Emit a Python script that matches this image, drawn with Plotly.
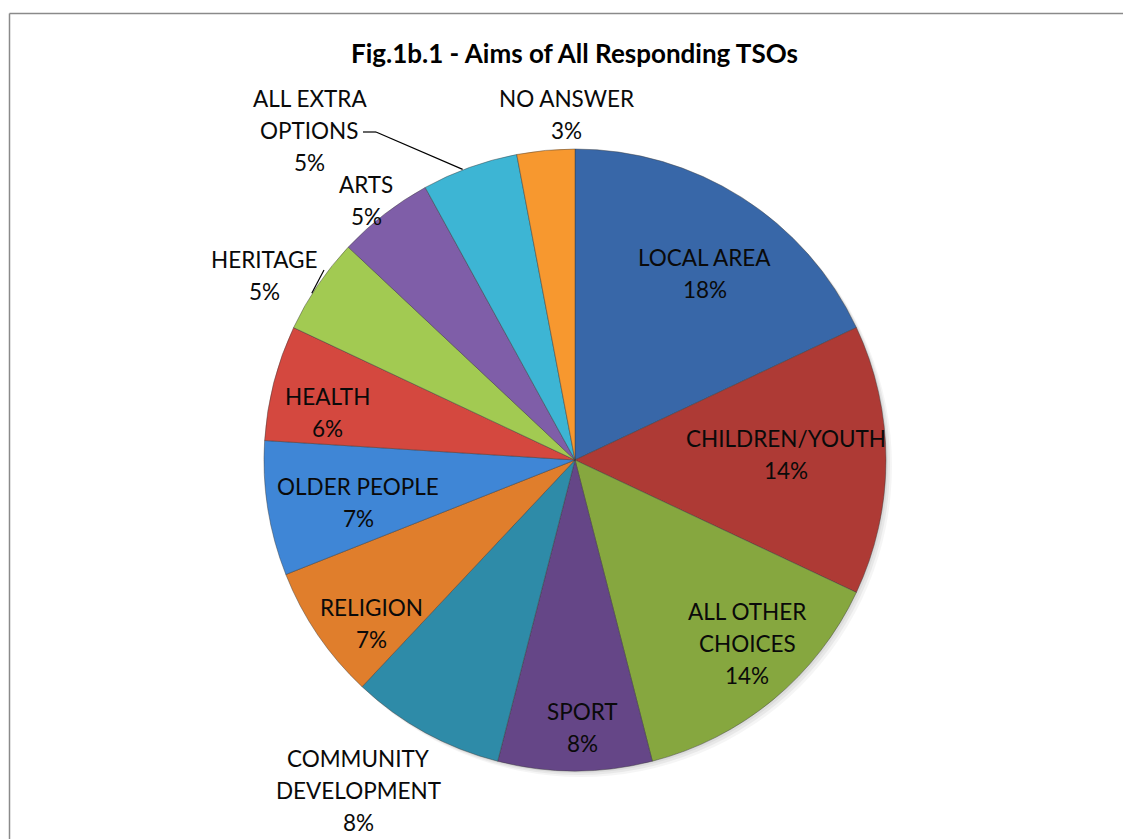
import math
import plotly.graph_objects as go

# Aims of responding TSOs, share of responses (%)
categories = [
    "LOCAL AREA", "CHILDREN/YOUTH", "ALL OTHER CHOICES", "SPORT",
    "COMMUNITY DEVELOPMENT", "RELIGION", "OLDER PEOPLE", "HEALTH",
    "HERITAGE", "ARTS", "ALL EXTRA OPTIONS", "NO ANSWER",
]
shares = [18, 14, 14, 8, 8, 7, 7, 6, 5, 5, 5, 3]

# How each label is broken over lines
label_lines = [
    ["LOCAL AREA"], ["CHILDREN/YOUTH"], ["ALL OTHER", "CHOICES"], ["SPORT"],
    ["COMMUNITY", "DEVELOPMENT"], ["RELIGION"], ["OLDER PEOPLE"], ["HEALTH"],
    ["HERITAGE"], ["ARTS"], ["ALL EXTRA", "OPTIONS"], ["NO ANSWER"],
]

colors = [
    "#3867A8", "#AE3A35", "#86A73F", "#654687", "#2E8BA8", "#E07E2C",
    "#3F86D6", "#D4483F", "#A2CA52", "#7F5EA8", "#3DB5D4", "#F7982F",
]

# Label placement: radial distance (fraction of radius) and angular nudge (deg)
label_radius = [0.73, 0.68, 0.81, 0.86, 1.27, 0.84, 0.71, 0.81, 1.16, 1.07, 1.36, 1.11]
label_nudge = [2.5, -1.5, -3.5, -1.5, 4.5, -4.5, -2.0, -3.5, -3.5, -1.0, -19.0, 4.0]

W, H = 1123, 839
CX, CY, R = 575, 460, 311      # pie centre and radius, px
LINE_H = 32                    # label line spacing, px
FONT = "Lato"


def px_to_paper(x, y):
    return x / W, 1 - y / H


fig = go.Figure()

fig.add_trace(go.Pie(
    labels=categories,
    values=shares,
    sort=False,
    direction="clockwise",
    rotation=0,
    textinfo="none",
    hoverinfo="label+percent",
    marker=dict(colors=colors, line=dict(color="rgba(60,60,60,0.45)", width=1)),
    domain=dict(
        x=[(CX - R) / W, (CX + R) / W],
        y=[1 - (CY + R) / H, 1 - (CY - R) / H],
    ),
    showlegend=False,
))

annotations = []
shapes = []

# soft drop shadow under the pie
for k, a in enumerate([0.05, 0.05, 0.04]):
    off = 2 + k * 2
    x0, y0 = px_to_paper(CX - R + off, CY - R + off)
    x1, y1 = px_to_paper(CX + R + off, CY + R + off)
    shapes.append(dict(type="circle", xref="paper", yref="paper",
                       x0=x0, x1=x1, y0=y1, y1=y0, layer="below",
                       line=dict(width=0), fillcolor=f"rgba(0,0,0,{a})"))

total = sum(shares)
cum = 0
mid_angles = []
for i, v in enumerate(shares):
    mid = (cum + v / 2) / total * 360
    cum += v
    mid_angles.append(mid)
    ang = math.radians(mid + label_nudge[i])
    lx = CX + label_radius[i] * R * math.sin(ang)
    ly = CY - label_radius[i] * R * math.cos(ang)
    lines = label_lines[i] + [f"{round(v / total * 100)}%"]
    n = len(lines)
    for j, t in enumerate(lines):
        yy = ly + (j - (n - 1) / 2) * LINE_H
        px, py = px_to_paper(lx, yy)
        annotations.append(dict(
            x=px, y=py, xref="paper", yref="paper", text=t, showarrow=False,
            xanchor="center", yanchor="middle",
            font=dict(family=FONT, size=22.5, color="#0a0a0a"),
        ))


def edge_point(i):
    a = math.radians(mid_angles[i])
    return CX + R * math.sin(a), CY - R * math.cos(a)


def leader(points):
    for (xa, ya), (xb, yb) in zip(points[:-1], points[1:]):
        x0, y0 = px_to_paper(xa, ya)
        x1, y1 = px_to_paper(xb, yb)
        shapes.append(dict(type="line", xref="paper", yref="paper",
                           x0=x0, y0=y0, x1=x1, y1=y1,
                           line=dict(color="#000000", width=1.2)))


# leader lines for labels placed outside the pie
i_extra = categories.index("ALL EXTRA OPTIONS")
ex, ey = edge_point(i_extra)
leader([(363, 132), (376, 132), (ex - 7, ey + 2)])
i_her = categories.index("HERITAGE")
hx, hy = edge_point(i_her)
leader([(324, 270), (hx - 6, hy + 8)])

# chart area frame
shapes.append(dict(type="line", xref="paper", yref="paper",
                   x0=9.5 / W, x1=1.0, y0=1 - 13.5 / H, y1=1 - 13.5 / H,
                   line=dict(color="#8a8a8a", width=1.5)))
shapes.append(dict(type="line", xref="paper", yref="paper",
                   x0=9.5 / W, x1=9.5 / W, y0=0, y1=1 - 13.5 / H,
                   line=dict(color="#8a8a8a", width=1.5)))

tx, ty = px_to_paper(574, 53)
annotations.append(dict(
    x=tx, y=ty, xref="paper", yref="paper",
    text="<b>Fig.1b.1 - Aims of All Responding TSOs</b>", showarrow=False,
    xanchor="center", yanchor="middle",
    font=dict(family=FONT, size=26, color="#000000"),
))

fig.update_layout(
    width=W, height=H, autosize=False,
    margin=dict(l=0, r=0, t=0, b=0),
    paper_bgcolor="white", plot_bgcolor="white",
    annotations=annotations, shapes=shapes,
)

fig.write_html("out.html")
